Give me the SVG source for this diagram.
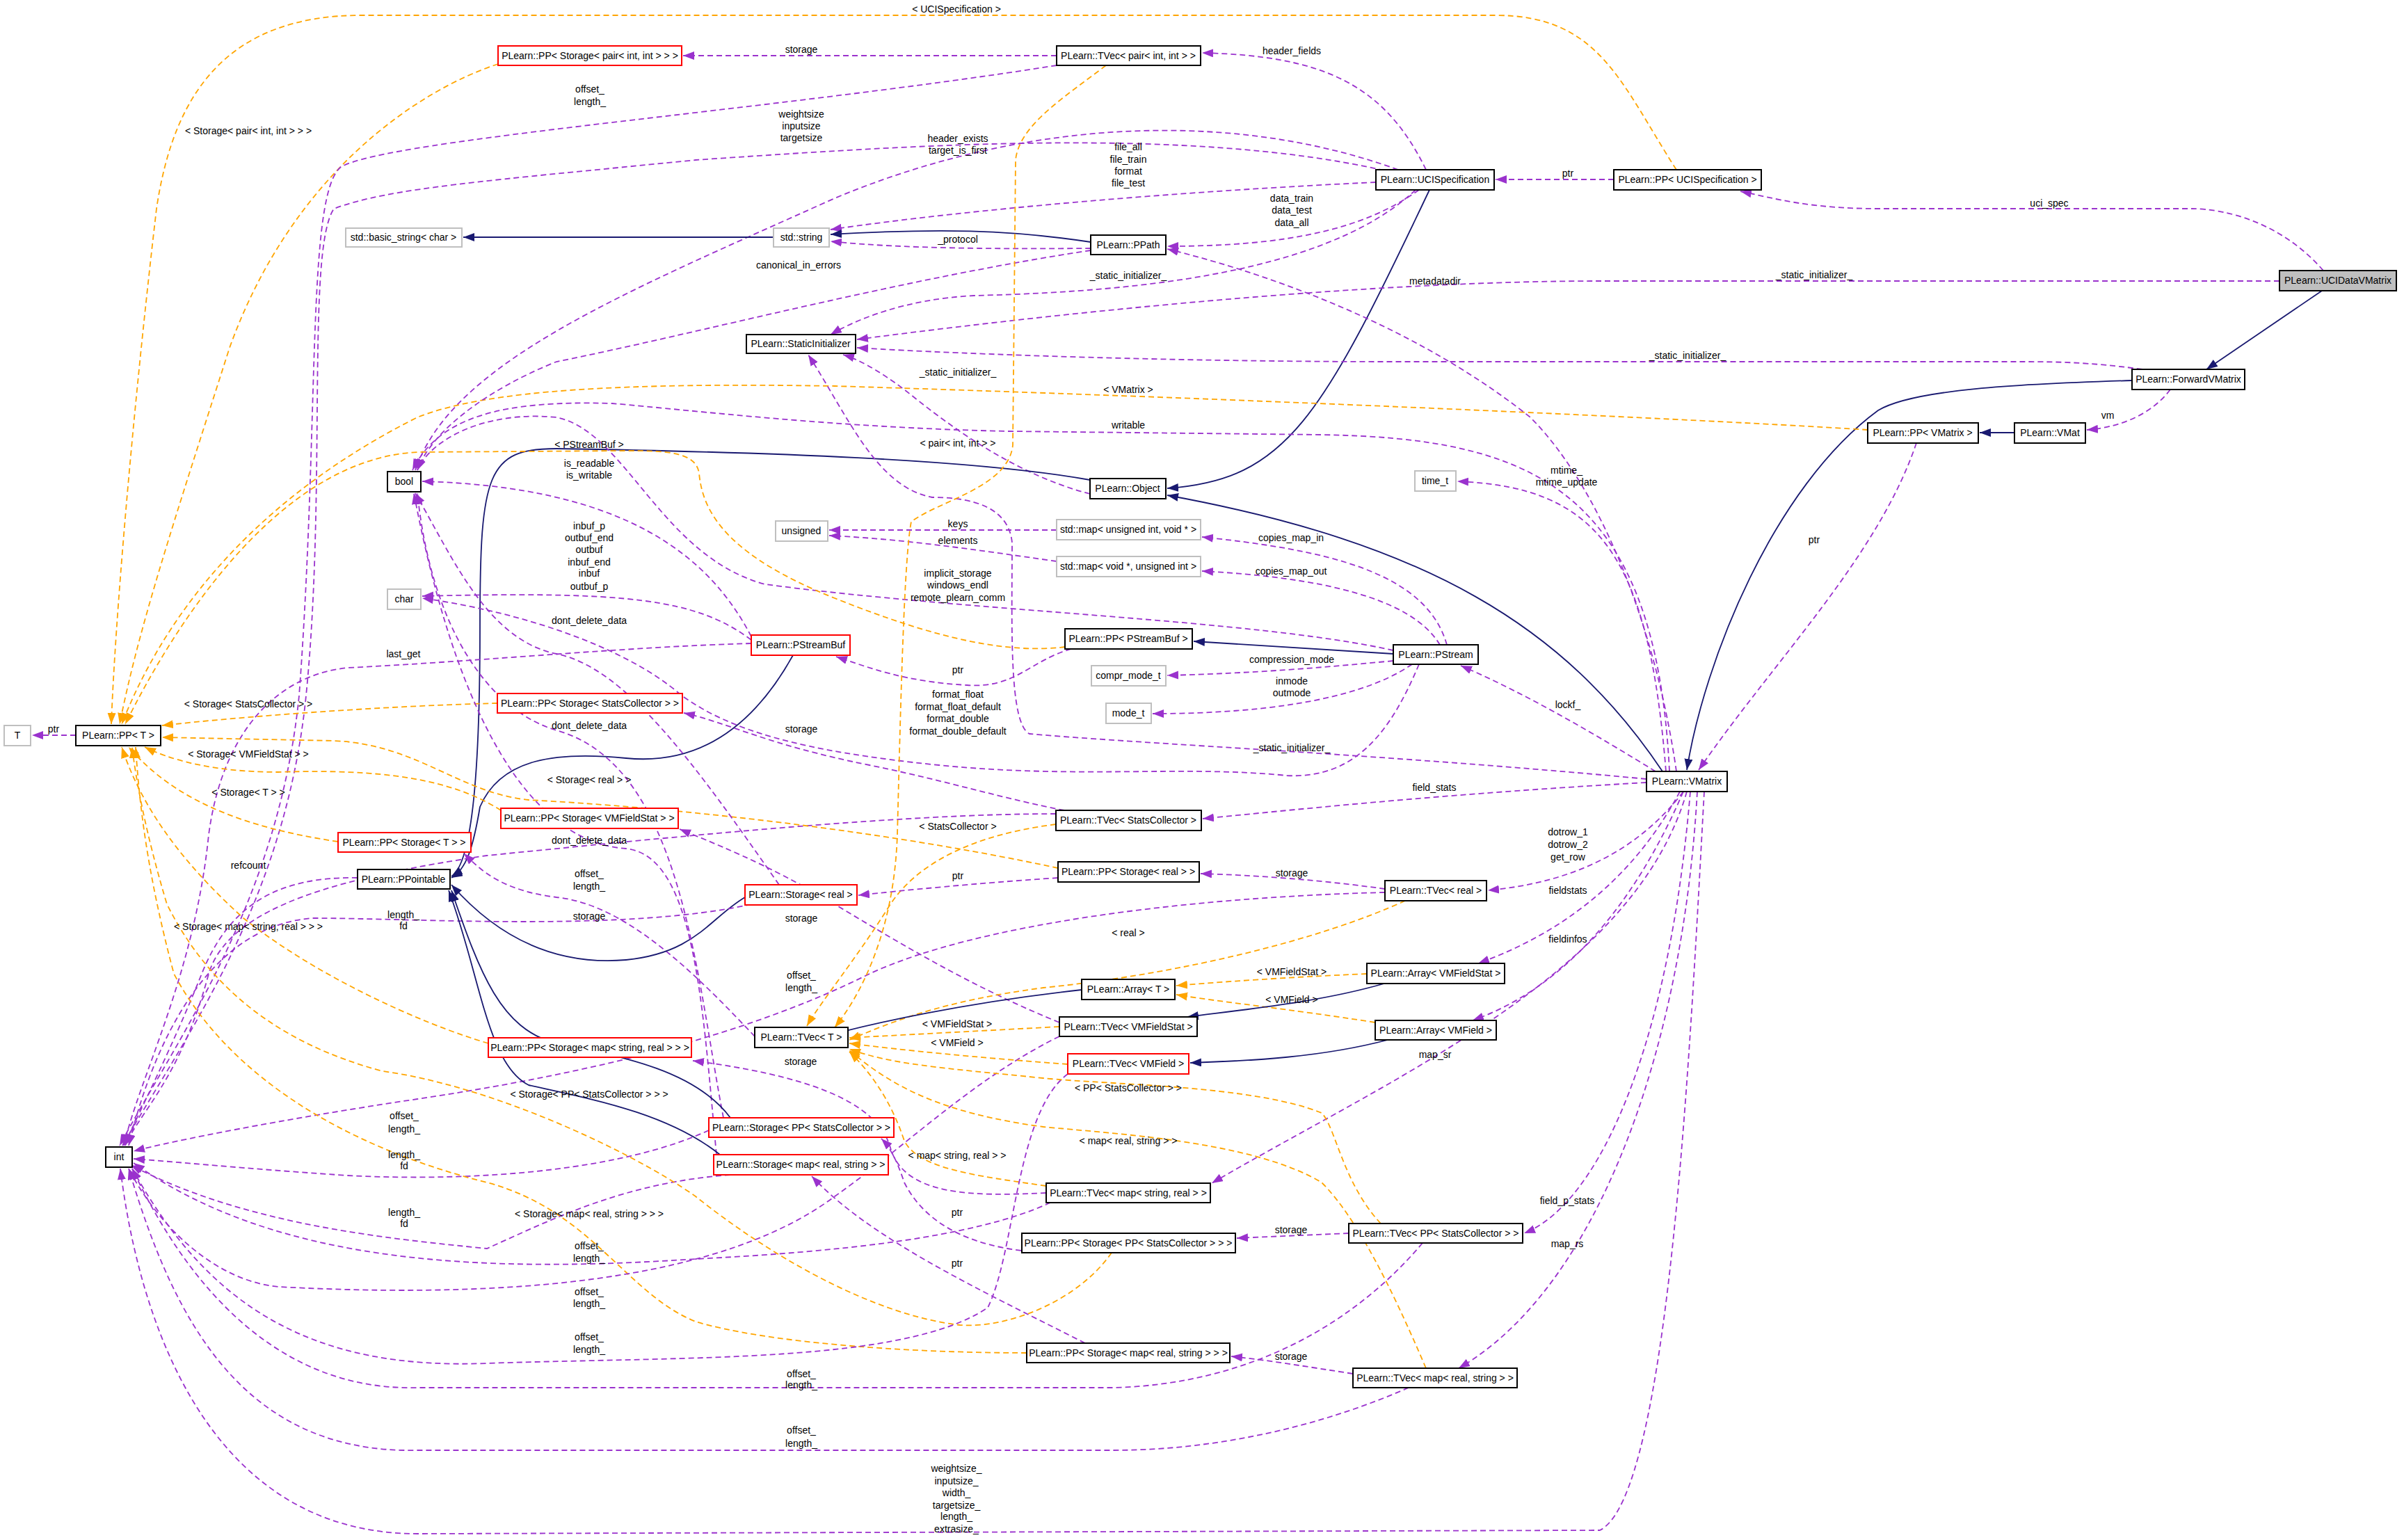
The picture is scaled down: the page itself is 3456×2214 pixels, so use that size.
<svg xmlns="http://www.w3.org/2000/svg" width="3456" height="2214" viewBox="0 0 3456 2214">
<style>
text{font-family:"Liberation Sans",Arial,sans-serif;font-size:14px;fill:#000}
.n rect{fill:#fff;stroke:#000;stroke-width:2}
.r rect{stroke:#ff0000}
.g rect{stroke:#bfbfbf}
.n text{text-anchor:middle}
.l{text-anchor:middle}
path{fill:none;stroke-width:1.8}
.u{stroke:#9a32cd;stroke-dasharray:8,5;marker-end:url(#mu)}
.t{stroke:#ffa500;stroke-dasharray:8,5;marker-end:url(#mt)}
.i{stroke:#191970;marker-end:url(#mi)}
</style>
<defs>
<marker id="mu" markerUnits="userSpaceOnUse" markerWidth="18" markerHeight="14" refX="16" refY="6" orient="auto"><path d="M0,0 L16,6 L0,12 z" style="fill:#9a32cd;stroke:none"/></marker>
<marker id="mt" markerUnits="userSpaceOnUse" markerWidth="18" markerHeight="14" refX="16" refY="6" orient="auto"><path d="M0,0 L16,6 L0,12 z" style="fill:#ffa500;stroke:none"/></marker>
<marker id="mi" markerUnits="userSpaceOnUse" markerWidth="18" markerHeight="14" refX="16" refY="6" orient="auto"><path d="M0,0 L16,6 L0,12 z" style="fill:#191970;stroke:none"/></marker>
</defs>
<rect width="3456" height="2214" fill="#fff"/>
<g id="edges">
<path class="u" d="M1519,80 L982,80"/>
<path class="t" d="M716,92 C600,130 420,250 330,500 C250,750 200,900 172,1041"/>
<path class="t" d="M2410,244 C2330,120 2300,22 2150,22 L520,22 C330,22 250,130 225,300 C190,600 165,900 160,1041"/>
<path class="u" d="M2050,244 C1990,120 1900,80 1728,76"/>
<path class="u" d="M1519,94 C1100,160 560,200 490,240 C440,280 460,600 430,1000 C400,1300 250,1500 172,1647"/>
<path class="u" d="M1990,245 C1700,180 1300,210 1000,230 C700,260 560,270 480,300 C440,360 470,700 440,1000 C410,1300 260,1500 176,1647"/>
<path class="u" d="M2010,244 C1750,150 1450,180 1200,285 C900,420 650,520 597,676"/>
<path class="u" d="M1978,262 C1700,275 1400,300 1194,330"/>
<path class="u" d="M2040,273 C1960,330 1850,354 1678,354"/>
<path class="u" d="M2035,273 C1900,400 1600,420 1400,425 C1300,430 1230,460 1194,481"/>
<path class="i" d="M2055,273 C1900,600 1850,690 1678,702"/>
<path class="u" d="M2320,258 L2150,258"/>
<path class="u" d="M3340,389 C3280,320 3200,300 3150,300 L2700,300 C2600,300 2550,285 2502,275"/>
<path class="u" d="M3277,404 L2300,404 C2000,404 1600,440 1232,488"/>
<path class="i" d="M3338,418 L3172,531"/>
<path class="u" d="M3080,531 C3000,520 2950,520 2900,520 L2000,520 C1700,520 1400,510 1232,500"/>
<path class="i" d="M3065,547 C2900,552 2750,560 2700,590 C2550,700 2450,950 2425,1107"/>
<path class="u" d="M3120,560 C3090,600 3040,615 3000,618"/>
<path class="i" d="M2896,622 L2846,622"/>
<path class="t" d="M2685,618 C2400,600 1700,570 1200,555 C900,550 700,560 600,600 C400,700 250,850 175,1041"/>
<path class="u" d="M2755,637 C2700,800 2550,950 2442,1107"/>
<path class="i" d="M1112,341 L666,341"/>
<path class="i" d="M1568,348 C1450,330 1350,328 1194,337"/>
<path class="u" d="M1568,357 C1450,358 1300,358 1194,347"/>
<path class="u" d="M1568,360 C1300,400 1000,480 800,520 C700,560 620,620 600,676"/>
<path class="u" d="M2410,1109 C2380,900 2300,700 2200,600 C2050,480 1850,400 1678,358"/>
<path class="u" d="M1567,710 C1450,680 1350,600 1300,560 C1260,530 1230,515 1212,510"/>
<path class="i" d="M1567,690 C1400,660 1100,650 800,645 C700,645 690,680 690,900 C690,1100 680,1240 649,1260"/>
<path class="u" d="M2400,1109 C2380,700 2200,630 1900,625 L1450,620 C1200,615 1000,590 880,580 C720,575 630,600 593,676"/>
<path class="u" d="M2395,1109 C2370,800 2300,700 2095,692"/>
<path class="i" d="M2390,1109 C2250,900 2050,780 1678,712"/>
<path class="u" d="M2367,1120 C2000,1085 1650,1070 1480,1055 C1450,1040 1455,900 1455,780 C1450,730 1400,715 1340,715 C1260,700 1220,600 1162,510"/>
<path class="u" d="M2380,1109 C2300,1060 2200,1000 2100,957"/>
<path class="u" d="M2367,1125 C2100,1140 1900,1160 1729,1177"/>
<path class="u" d="M2420,1138 C2350,1230 2250,1270 2139,1280"/>
<path class="u" d="M2415,1138 C2350,1260 2250,1340 2125,1385"/>
<path class="u" d="M2420,1138 C2350,1300 2250,1420 2117,1467"/>
<path class="u" d="M2425,1138 C2350,1400 2000,1550 1742,1701"/>
<path class="u" d="M2430,1138 C2400,1500 2300,1730 2191,1773"/>
<path class="u" d="M2440,1138 C2420,1500 2300,1850 2097,1967"/>
<path class="u" d="M2450,1138 C2430,1500 2400,2150 2300,2200 L600,2205 C300,2205 200,1900 173,1680"/>
<path class="u" d="M1519,762 L1192,762"/>
<path class="u" d="M1519,807 C1400,790 1300,775 1192,770"/>
<path class="u" d="M2080,927 C2050,820 1900,790 1728,772"/>
<path class="u" d="M2070,927 C2030,860 1900,830 1728,821"/>
<path class="u" d="M2003,935 C1800,890 1400,880 1100,840 C950,800 900,620 800,600 C700,590 620,630 600,676"/>
<path class="i" d="M2003,940 L1716,922"/>
<path class="u" d="M2003,950 C1900,960 1800,968 1678,971"/>
<path class="u" d="M2030,955 C1950,1010 1800,1026 1657,1026"/>
<path class="u" d="M2040,955 C2000,1050 1950,1120 1850,1115 C1700,1100 1550,1120 1350,1100 C1150,1080 1050,1050 980,1000 C900,930 750,880 607,860"/>
<path class="u" d="M1540,933 C1480,950 1460,990 1390,985 C1300,980 1250,960 1202,944"/>
<path class="t" d="M1531,930 C1450,940 1350,920 1200,860 C1050,800 1010,740 1005,680 C1000,650 960,648 900,648 L600,650 C400,660 250,900 180,1041"/>
<path class="i" d="M1140,942 C1080,1050 1000,1100 900,1090 C800,1080 720,1090 690,1160 C680,1220 670,1250 649,1262"/>
<path class="u" d="M1080,915 C1020,800 900,700 607,692"/>
<path class="u" d="M1080,920 C1000,860 900,850 607,857"/>
<path class="u" d="M1080,925 C900,930 700,950 500,960 C400,970 320,1050 300,1200 C280,1400 200,1550 178,1647"/>
<path class="t" d="M715,1011 C550,1015 350,1030 233,1043"/>
<path class="u" d="M1530,1165 C1450,1150 1350,1120 1250,1100 C1100,1070 1050,1040 983,1025"/>
<path class="u" d="M1518,1170 C1300,1170 1000,1200 700,1230 C500,1260 330,1300 300,1400 C260,1550 200,1600 180,1647"/>
<path class="t" d="M1518,1185 C1400,1200 1320,1240 1280,1300 C1230,1380 1180,1440 1160,1475"/>
<path class="t" d="M720,1165 C650,1120 550,1105 400,1110 C300,1110 240,1090 208,1074"/>
<path class="t" d="M1521,1248 C1250,1190 950,1160 760,1150 C660,1140 600,1070 480,1065 L233,1060"/>
<path class="u" d="M1523,1470 C1400,1420 1300,1360 1200,1300 C1100,1240 1020,1210 977,1192"/>
<path class="t" d="M486,1210 C350,1190 250,1150 185,1074"/>
<path class="u" d="M1085,1490 C1000,1400 900,1300 800,1290 C720,1280 690,1250 667,1227"/>
<path class="u" d="M514,1262 C400,1260 330,1300 290,1400 C250,1500 200,1600 178,1647"/>
<path class="u" d="M1521,1262 C1400,1270 1300,1280 1234,1287"/>
<path class="u" d="M1991,1278 C1900,1265 1800,1258 1726,1256"/>
<path class="u" d="M1991,1283 C1700,1290 1400,1330 1250,1400 C1050,1500 800,1550 600,1580 C400,1610 250,1640 192,1655"/>
<path class="t" d="M2020,1295 C1900,1350 1700,1400 1500,1420 C1350,1440 1280,1470 1221,1495"/>
<path class="i" d="M1071,1290 C1020,1320 1000,1370 900,1380 C780,1390 700,1330 649,1272"/>
<path class="u" d="M1120,1272 C1000,1100 900,960 800,940 C700,920 650,800 597,709"/>
<path class="u" d="M1080,1300 C900,1340 600,1320 450,1320 C300,1330 220,1500 185,1647"/>
<path class="u" d="M1040,1607 C1000,1400 980,1100 800,1050 C700,1020 620,900 600,709"/>
<path class="u" d="M1030,1660 C1010,1450 1000,1230 900,1220 C750,1210 650,1000 595,709"/>
<path class="i" d="M1050,1607 C1000,1540 900,1520 800,1500 C720,1480 690,1400 649,1280"/>
<path class="i" d="M1035,1660 C960,1600 850,1580 760,1560 C700,1530 690,1400 645,1280"/>
<path class="u" d="M1019,1625 C900,1680 700,1700 500,1690 C350,1680 250,1670 192,1666"/>
<path class="u" d="M1050,1689 C900,1700 800,1750 700,1795 C550,1780 350,1760 188,1675"/>
<path class="u" d="M1520,1801 C1400,1800 1330,1760 1300,1700 C1290,1670 1280,1650 1267,1637"/>
<path class="u" d="M1560,1931 C1400,1850 1250,1780 1167,1691"/>
<path class="t" d="M702,1500 C600,1470 450,1400 350,1320 C250,1230 200,1150 175,1074"/>
<path class="t" d="M1598,1801 C1550,1870 1450,1910 1380,1905 C1250,1890 1100,1800 1000,1720 C900,1650 700,1560 550,1540 C400,1500 300,1420 240,1300 C210,1200 195,1120 190,1074"/>
<path class="t" d="M1476,1945 C1300,1945 1100,1930 1000,1900 C900,1860 850,1740 700,1700 C500,1650 330,1550 250,1400 C210,1250 200,1150 195,1074"/>
<path class="u" d="M1504,1715 C1400,1720 1300,1720 1280,1650 C1260,1580 1150,1545 996,1525"/>
<path class="t" d="M1504,1705 C1400,1690 1320,1680 1300,1640 C1280,1580 1250,1540 1221,1512"/>
<path class="u" d="M1510,1729 C1400,1780 1200,1800 1000,1810 C700,1830 400,1820 192,1672"/>
<path class="t" d="M1523,1476 L1221,1492"/>
<path class="u" d="M1523,1490 C1400,1550 1300,1650 1200,1720 C1000,1870 600,1860 400,1850 C300,1840 220,1750 185,1680"/>
<path class="t" d="M1535,1530 C1400,1520 1300,1510 1221,1500"/>
<path class="u" d="M1535,1544 C1460,1600 1460,1800 1420,1880 C1300,1960 1000,1950 700,1960 C450,1970 300,1880 190,1680"/>
<path class="t" d="M1965,1400 C1850,1405 1750,1412 1691,1417"/>
<path class="t" d="M1977,1470 C1850,1450 1750,1440 1691,1430"/>
<path class="i" d="M1990,1414 C1900,1440 1800,1450 1707,1462"/>
<path class="i" d="M1995,1495 C1900,1520 1800,1525 1711,1528"/>
<path class="i" d="M1555,1423 C1400,1440 1250,1470 1150,1500"/>
<path class="u" d="M1939,1773 L1778,1780"/>
<path class="t" d="M1985,1759 C1930,1700 1920,1620 1900,1600 C1800,1560 1600,1560 1500,1550 C1350,1535 1280,1530 1221,1508"/>
<path class="u" d="M2045,1787 C1950,1900 1800,1990 1600,1995 L600,1995 C400,2000 270,1850 190,1680"/>
<path class="u" d="M1945,1975 C1880,1965 1820,1955 1770,1950"/>
<path class="t" d="M2050,1967 C2000,1850 1950,1750 1900,1700 C1800,1640 1600,1630 1500,1620 C1350,1600 1280,1560 1221,1510"/>
<path class="u" d="M2025,1995 C1900,2050 1750,2085 1600,2085 L600,2085 C350,2090 250,1900 185,1680"/>
<path class="u" d="M109,1057 L46,1057"/>
<path class="t" d="M1590,94 C1530,140 1465,180 1460,230 L1456,640 C1450,700 1350,720 1310,750 C1300,800 1295,1000 1290,1200 C1285,1350 1230,1440 1200,1477"/>
</g>
<g id="labels">
<text class="l" x="1375" y="18">&lt; UCISpecification &gt;</text>
<text class="l" x="1152" y="76">storage</text>
<text class="l" x="848" y="133">offset_</text><text class="l" x="848" y="151">length_</text>
<text class="l" x="357" y="193">&lt; Storage&lt; pair&lt; int, int &gt; &gt; &gt;</text>
<text class="l" x="1152" y="169">weightsize</text><text class="l" x="1152" y="186">inputsize</text><text class="l" x="1152" y="203">targetsize</text>
<text class="l" x="1148" y="386">canonical_in_errors</text>
<text class="l" x="847" y="644">&lt; PStreamBuf &gt;</text>
<text class="l" x="847" y="671">is_readable</text><text class="l" x="847" y="688">is_writable</text>
<text class="l" x="1857" y="78">header_fields</text>
<text class="l" x="1377" y="204">header_exists</text><text class="l" x="1377" y="221">target_is_first</text>
<text class="l" x="1622" y="216">file_all</text><text class="l" x="1622" y="234">file_train</text><text class="l" x="1622" y="251">format</text><text class="l" x="1622" y="268">file_test</text>
<text class="l" x="2254" y="254">ptr</text>
<text class="l" x="1857" y="290">data_train</text><text class="l" x="1857" y="307">data_test</text><text class="l" x="1857" y="325">data_all</text>
<text class="l" x="1377" y="349">_protocol</text>
<text class="l" x="1622" y="401">_static_initializer_</text>
<text class="l" x="2063" y="409">metadatadir</text>
<text class="l" x="1377" y="540">_static_initializer_</text>
<text class="l" x="1622" y="565">&lt; VMatrix &gt;</text>
<text class="l" x="1622" y="616">writable</text>
<text class="l" x="1377" y="642">&lt; pair&lt; int, int &gt; &gt;</text>
<text class="l" x="2252" y="681">mtime_</text><text class="l" x="2252" y="698">mtime_update</text>
<text class="l" x="2946" y="297">uci_spec</text>
<text class="l" x="2608" y="400">_static_initializer_</text>
<text class="l" x="2426" y="516">_static_initializer_</text>
<text class="l" x="3030" y="602">vm</text>
<text class="l" x="847" y="761">inbuf_p</text><text class="l" x="847" y="778">outbuf_end</text><text class="l" x="847" y="795">outbuf</text><text class="l" x="847" y="813">inbuf_end</text><text class="l" x="847" y="829">inbuf</text><text class="l" x="847" y="848">outbuf_p</text>
<text class="l" x="847" y="897">dont_delete_data</text>
<text class="l" x="580" y="945">last_get</text>
<text class="l" x="357" y="1017">&lt; Storage&lt; StatsCollector &gt; &gt;</text>
<text class="l" x="77" y="1053">ptr</text>
<text class="l" x="1152" y="1053">storage</text>
<text class="l" x="847" y="1048">dont_delete_data</text>
<text class="l" x="357" y="1089">&lt; Storage&lt; VMFieldStat &gt; &gt;</text>
<text class="l" x="847" y="1126">&lt; Storage&lt; real &gt; &gt;</text>
<text class="l" x="357" y="1144">&lt; Storage&lt; T &gt; &gt;</text>
<text class="l" x="847" y="1213">dont_delete_data</text>
<text class="l" x="357" y="1249">refcount</text>
<text class="l" x="847" y="1261">offset_</text><text class="l" x="847" y="1279">length_</text>
<text class="l" x="580" y="1320">length_</text><text class="l" x="580" y="1336">fd</text>
<text class="l" x="847" y="1322">storage</text>
<text class="l" x="1152" y="1325">storage</text>
<text class="l" x="357" y="1337">&lt; Storage&lt; map&lt; string, real &gt; &gt; &gt;</text>
<text class="l" x="1152" y="1407">offset_</text><text class="l" x="1152" y="1425">length_</text>
<text class="l" x="1377" y="758">keys</text>
<text class="l" x="1377" y="782">elements</text>
<text class="l" x="1856" y="778">copies_map_in</text>
<text class="l" x="1856" y="826">copies_map_out</text>
<text class="l" x="1377" y="829">implicit_storage</text><text class="l" x="1377" y="846">windows_endl</text><text class="l" x="1377" y="864">remote_plearn_comm</text>
<text class="l" x="1377" y="968">ptr</text>
<text class="l" x="1857" y="953">compression_mode</text>
<text class="l" x="1857" y="984">inmode</text><text class="l" x="1857" y="1001">outmode</text>
<text class="l" x="2254" y="1018">lockf_</text>
<text class="l" x="1377" y="1003">format_float</text><text class="l" x="1377" y="1021">format_float_default</text><text class="l" x="1377" y="1038">format_double</text><text class="l" x="1377" y="1056">format_double_default</text>
<text class="l" x="1857" y="1080">_static_initializer_</text>
<text class="l" x="2062" y="1137">field_stats</text>
<text class="l" x="1377" y="1193">&lt; StatsCollector &gt;</text>
<text class="l" x="2254" y="1201">dotrow_1</text><text class="l" x="2254" y="1219">dotrow_2</text><text class="l" x="2254" y="1237">get_row</text>
<text class="l" x="1857" y="1260">storage</text>
<text class="l" x="1377" y="1264">ptr</text>
<text class="l" x="2254" y="1285">fieldstats</text>
<text class="l" x="1622" y="1346">&lt; real &gt;</text>
<text class="l" x="2254" y="1355">fieldinfos</text>
<text class="l" x="1857" y="1402">&lt; VMFieldStat &gt;</text>
<text class="l" x="1857" y="1442">&lt; VMField &gt;</text>
<text class="l" x="2608" y="781">ptr</text>
<text class="l" x="847" y="1578">&lt; Storage&lt; PP&lt; StatsCollector &gt; &gt; &gt;</text>
<text class="l" x="581" y="1609">offset_</text><text class="l" x="581" y="1628">length_</text>
<text class="l" x="581" y="1665">length_</text><text class="l" x="581" y="1681">fd</text>
<text class="l" x="581" y="1748">length_</text><text class="l" x="581" y="1764">fd</text>
<text class="l" x="847" y="1750">&lt; Storage&lt; map&lt; real, string &gt; &gt; &gt;</text>
<text class="l" x="847" y="1796">offset_</text><text class="l" x="847" y="1814">length_</text>
<text class="l" x="847" y="1862">offset_</text><text class="l" x="847" y="1879">length_</text>
<text class="l" x="847" y="1927">offset_</text><text class="l" x="847" y="1945">length_</text>
<text class="l" x="1152" y="1980">offset_</text><text class="l" x="1152" y="1996">length_</text>
<text class="l" x="1152" y="2061">offset_</text><text class="l" x="1152" y="2080">length_</text>
<text class="l" x="1151" y="1531">storage</text>
<text class="l" x="1376" y="1477">&lt; VMFieldStat &gt;</text>
<text class="l" x="1376" y="1504">&lt; VMField &gt;</text>
<text class="l" x="2063" y="1521">map_sr</text>
<text class="l" x="1622" y="1569">&lt; PP&lt; StatsCollector &gt; &gt;</text>
<text class="l" x="1622" y="1645">&lt; map&lt; real, string &gt; &gt;</text>
<text class="l" x="1376" y="1666">&lt; map&lt; string, real &gt; &gt;</text>
<text class="l" x="1376" y="1748">ptr</text>
<text class="l" x="1856" y="1773">storage</text>
<text class="l" x="2253" y="1731">field_p_stats</text>
<text class="l" x="2253" y="1793">map_rs</text>
<text class="l" x="1376" y="1821">ptr</text>
<text class="l" x="1856" y="1955">storage</text>
<text class="l" x="1375" y="2116">weightsize_</text><text class="l" x="1375" y="2134">inputsize_</text><text class="l" x="1375" y="2151">width_</text><text class="l" x="1375" y="2169">targetsize_</text><text class="l" x="1375" y="2185">length_</text><text class="l" x="1375" y="2203">extrasize_</text>
</g>
<g id="n_pp_storage_pair" class="n r"><rect x="716" y="66" width="264" height="28"/><text x="848" y="85">PLearn::PP&lt; Storage&lt; pair&lt; int, int &gt; &gt; &gt;</text></g>
<g id="n_tvec_pair" class="n"><rect x="1519" y="66" width="207" height="28"/><text x="1622" y="85">PLearn::TVec&lt; pair&lt; int, int &gt; &gt;</text></g>
<g id="n_basic_string" class="n g"><rect x="497" y="328" width="167" height="27"/><text x="580" y="346">std::basic_string&lt; char &gt;</text></g>
<g id="n_string" class="n g"><rect x="1112" y="328" width="80" height="27"/><text x="1152" y="346">std::string</text></g>
<g id="n_staticinit" class="n"><rect x="1073" y="481" width="157" height="27"/><text x="1151" y="499">PLearn::StaticInitializer</text></g>
<g id="n_bool" class="n"><rect x="557" y="678" width="48" height="29"/><text x="581" y="697">bool</text></g>
<g id="n_ucispec" class="n"><rect x="1978" y="244" width="170" height="29"/><text x="2063" y="263">PLearn::UCISpecification</text></g>
<g id="n_ppath" class="n"><rect x="1568" y="338" width="108" height="28"/><text x="1622" y="357">PLearn::PPath</text></g>
<g id="n_object" class="n"><rect x="1567" y="688" width="109" height="29"/><text x="1621" y="707">PLearn::Object</text></g>
<g id="n_time_t" class="n g"><rect x="2034" y="677" width="59" height="29"/><text x="2063" y="696">time_t</text></g>
<g id="n_pp_ucispec" class="n"><rect x="2320" y="244" width="212" height="29"/><text x="2426" y="263">PLearn::PP&lt; UCISpecification &gt;</text></g>
<g id="n_ucidatavmatrix" class="n"><rect x="3277" y="389" width="168" height="29" style="fill:#bfbfbf"/><text x="3361" y="408">PLearn::UCIDataVMatrix</text></g>
<g id="n_forwardvmatrix" class="n"><rect x="3065" y="531" width="162" height="29"/><text x="3146" y="550">PLearn::ForwardVMatrix</text></g>
<g id="n_pp_vmatrix" class="n"><rect x="2685" y="608" width="159" height="29"/><text x="2764" y="627">PLearn::PP&lt; VMatrix &gt;</text></g>
<g id="n_vmat" class="n"><rect x="2896" y="608" width="102" height="29"/><text x="2947" y="627">PLearn::VMat</text></g>
<g id="n_char" class="n g"><rect x="557" y="847" width="48" height="29"/><text x="581" y="866">char</text></g>
<g id="n_pstreambuf" class="n r"><rect x="1080" y="913" width="142" height="29"/><text x="1151" y="932">PLearn::PStreamBuf</text></g>
<g id="n_pp_storage_sc" class="n r"><rect x="715" y="997" width="266" height="28"/><text x="848" y="1016">PLearn::PP&lt; Storage&lt; StatsCollector &gt; &gt;</text></g>
<g id="n_T" class="n g"><rect x="6" y="1043" width="38" height="29"/><text x="25" y="1062">T</text></g>
<g id="n_pp_T" class="n"><rect x="109" y="1043" width="122" height="29"/><text x="170" y="1062">PLearn::PP&lt; T &gt;</text></g>
<g id="n_pp_storage_vmfs" class="n r"><rect x="720" y="1162" width="255" height="29"/><text x="847" y="1181">PLearn::PP&lt; Storage&lt; VMFieldStat &gt; &gt;</text></g>
<g id="n_pp_storage_T" class="n r"><rect x="486" y="1197" width="191" height="28"/><text x="581" y="1216">PLearn::PP&lt; Storage&lt; T &gt; &gt;</text></g>
<g id="n_ppointable" class="n"><rect x="514" y="1250" width="133" height="28"/><text x="580" y="1269">PLearn::PPointable</text></g>
<g id="n_storage_real" class="n r"><rect x="1071" y="1272" width="161" height="29"/><text x="1151" y="1291">PLearn::Storage&lt; real &gt;</text></g>
<g id="n_unsigned" class="n g"><rect x="1115" y="749" width="75" height="29"/><text x="1152" y="768">unsigned</text></g>
<g id="n_map_uv" class="n g"><rect x="1519" y="747" width="207" height="29"/><text x="1622" y="766">std::map&lt; unsigned int, void * &gt;</text></g>
<g id="n_map_vu" class="n g"><rect x="1519" y="800" width="207" height="29"/><text x="1622" y="819">std::map&lt; void *, unsigned int &gt;</text></g>
<g id="n_pp_pstreambuf" class="n"><rect x="1531" y="904" width="183" height="29"/><text x="1622" y="923">PLearn::PP&lt; PStreamBuf &gt;</text></g>
<g id="n_pstream" class="n"><rect x="2003" y="927" width="122" height="28"/><text x="2064" y="946">PLearn::PStream</text></g>
<g id="n_compr_mode" class="n g"><rect x="1569" y="957" width="107" height="29"/><text x="1622" y="976">compr_mode_t</text></g>
<g id="n_mode_t" class="n g"><rect x="1590" y="1011" width="65" height="29"/><text x="1622" y="1030">mode_t</text></g>
<g id="n_tvec_sc" class="n"><rect x="1518" y="1165" width="209" height="29"/><text x="1622" y="1184">PLearn::TVec&lt; StatsCollector &gt;</text></g>
<g id="n_pp_storage_real" class="n"><rect x="1521" y="1239" width="203" height="29"/><text x="1622" y="1258">PLearn::PP&lt; Storage&lt; real &gt; &gt;</text></g>
<g id="n_tvec_real" class="n"><rect x="1991" y="1266" width="146" height="29"/><text x="2064" y="1285">PLearn::TVec&lt; real &gt;</text></g>
<g id="n_array_vmfs" class="n"><rect x="1965" y="1385" width="198" height="29"/><text x="2064" y="1404">PLearn::Array&lt; VMFieldStat &gt;</text></g>
<g id="n_array_T" class="n"><rect x="1555" y="1408" width="134" height="29"/><text x="1622" y="1427">PLearn::Array&lt; T &gt;</text></g>
<g id="n_vmatrix" class="n"><rect x="2367" y="1109" width="116" height="29"/><text x="2425" y="1128">PLearn::VMatrix</text></g>
<g id="n_int" class="n"><rect x="152" y="1649" width="38" height="29"/><text x="171" y="1668">int</text></g>
<g id="n_pp_storage_map_sr" class="n r"><rect x="702" y="1492" width="292" height="28"/><text x="848" y="1511">PLearn::PP&lt; Storage&lt; map&lt; string, real &gt; &gt; &gt;</text></g>
<g id="n_storage_pp_sc" class="n r"><rect x="1019" y="1607" width="266" height="28"/><text x="1152" y="1626">PLearn::Storage&lt; PP&lt; StatsCollector &gt; &gt;</text></g>
<g id="n_storage_map_rs" class="n r"><rect x="1026" y="1660" width="251" height="29"/><text x="1151" y="1679">PLearn::Storage&lt; map&lt; real, string &gt; &gt;</text></g>
<g id="n_tvec_T" class="n"><rect x="1085" y="1477" width="134" height="29"/><text x="1152" y="1496">PLearn::TVec&lt; T &gt;</text></g>
<g id="n_tvec_vmfs" class="n"><rect x="1523" y="1462" width="198" height="28"/><text x="1622" y="1481">PLearn::TVec&lt; VMFieldStat &gt;</text></g>
<g id="n_tvec_vmf" class="n r"><rect x="1535" y="1515" width="174" height="29"/><text x="1622" y="1534">PLearn::TVec&lt; VMField &gt;</text></g>
<g id="n_array_vmf" class="n"><rect x="1977" y="1467" width="174" height="28"/><text x="2064" y="1486">PLearn::Array&lt; VMField &gt;</text></g>
<g id="n_tvec_map_sr" class="n"><rect x="1504" y="1701" width="236" height="28"/><text x="1622" y="1720">PLearn::TVec&lt; map&lt; string, real &gt; &gt;</text></g>
<g id="n_pp_storage_pp_sc" class="n"><rect x="1469" y="1773" width="307" height="28"/><text x="1622" y="1792">PLearn::PP&lt; Storage&lt; PP&lt; StatsCollector &gt; &gt; &gt;</text></g>
<g id="n_tvec_pp_sc" class="n"><rect x="1939" y="1759" width="250" height="28"/><text x="2064" y="1778">PLearn::TVec&lt; PP&lt; StatsCollector &gt; &gt;</text></g>
<g id="n_pp_storage_map_rs" class="n"><rect x="1476" y="1931" width="292" height="28"/><text x="1622" y="1950">PLearn::PP&lt; Storage&lt; map&lt; real, string &gt; &gt; &gt;</text></g>
<g id="n_tvec_map_rs" class="n"><rect x="1945" y="1967" width="236" height="28"/><text x="2063" y="1986">PLearn::TVec&lt; map&lt; real, string &gt; &gt;</text></g>
</svg>
